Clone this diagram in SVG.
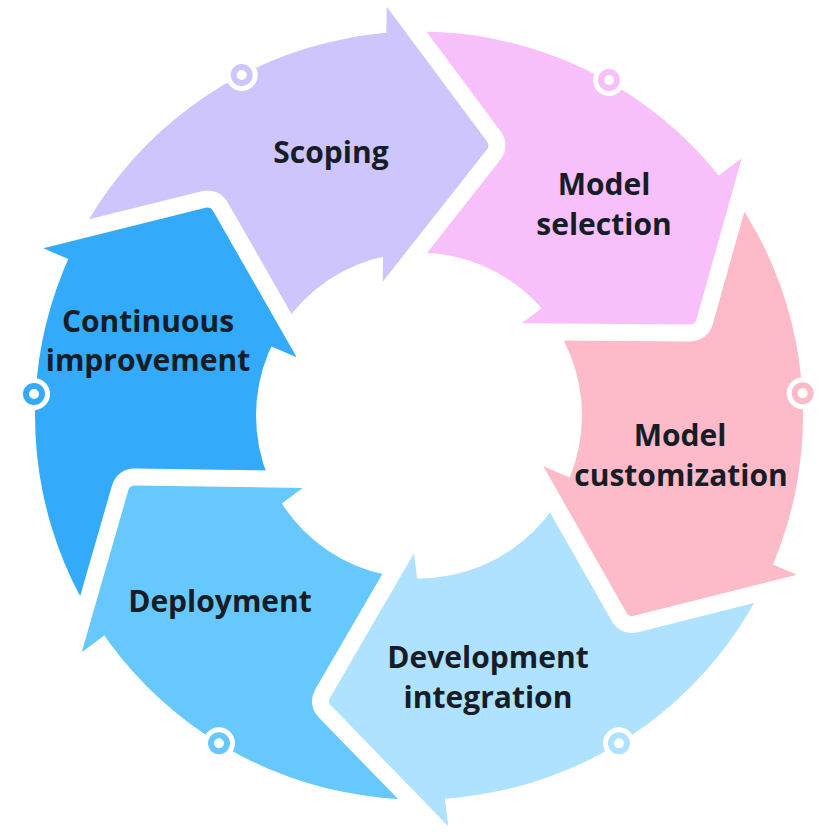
<svg xmlns="http://www.w3.org/2000/svg" xmlns:xlink="http://www.w3.org/1999/xlink" width="839" height="833" viewBox="0 0 839 833">
<style>
.lbl{font-family:"Open Sans","Noto Sans","DejaVu Sans",sans-serif;font-weight:700;font-size:30px;fill:#161D26;text-anchor:middle}
.cut{fill:#000;stroke:#000;stroke-width:34;stroke-linejoin:round}
.halo{fill:#fff}
.dot{fill:#fff;stroke-width:6}
</style>
<defs>
<clipPath id="ring"><path clip-rule="evenodd" d="M35 415.5A384 384 0 1 0 803 415.5A384 384 0 1 0 35 415.5ZM256 415.5A163 163 0 1 0 582 415.5A163 163 0 1 0 256 415.5Z"/></clipPath>
<path id="t1" d="M386.7 6.7L487 141.5Q490 145.5 486.9 149.4L382.7 281.7Z"/>
<path id="t2" d="M741.7 158.3L696.35 319.69Q695 324.5 690 324.47L521.7 323.3Z"/>
<path id="t3" d="M796.7 574.7L633.85 615.78Q629 617 626.53 612.65L543.3 466.3Z"/>
<path id="t4" d="M448.3 826.3L330.99 705.59Q327.5 702 330.01 697.68L414 553.3Z"/>
<path id="t5" d="M81.7 652.3L128.32 490.3Q129.7 485.5 134.7 485.57L302.7 488Z"/>
<path id="t6" d="M43.3 248.3L205.65 207.71Q210.5 206.5 212.98 210.84L296.7 357.3Z"/>
<mask id="m1" maskUnits="userSpaceOnUse" x="0" y="0" width="839" height="833"><rect width="839" height="833" fill="#fff"/><use xlink:href="#t6" class="cut"/></mask>
<mask id="m2" maskUnits="userSpaceOnUse" x="0" y="0" width="839" height="833"><rect width="839" height="833" fill="#fff"/><use xlink:href="#t1" class="cut"/></mask>
<mask id="m3" maskUnits="userSpaceOnUse" x="0" y="0" width="839" height="833"><rect width="839" height="833" fill="#fff"/><use xlink:href="#t2" class="cut"/></mask>
<mask id="m4" maskUnits="userSpaceOnUse" x="0" y="0" width="839" height="833"><rect width="839" height="833" fill="#fff"/><use xlink:href="#t3" class="cut"/></mask>
<mask id="m5" maskUnits="userSpaceOnUse" x="0" y="0" width="839" height="833"><rect width="839" height="833" fill="#fff"/><use xlink:href="#t4" class="cut"/></mask>
<mask id="m6" maskUnits="userSpaceOnUse" x="0" y="0" width="839" height="833"><rect width="839" height="833" fill="#fff"/><use xlink:href="#t5" class="cut"/></mask>
</defs>
<rect width="839" height="833" fill="#fff"/>

<g id="scoping">
<path fill="#CDC5FB" clip-path="url(#ring)" mask="url(#m1)" d="M333.5 373.1L-48.6 208.8L-115 -309L389.7 -93.3L383.6 321.7Z"/>
<use xlink:href="#t1" fill="#CDC5FB"/>
<circle class="halo" cx="241.7" cy="75" r="16"/>
<circle class="dot" cx="241.7" cy="75" r="8" stroke="#CDC5FB"/>
<text class="lbl" x="331" y="163">Scoping</text>
</g>

<g id="model-selection">
<path fill="#F7C0FA" clip-path="url(#ring)" mask="url(#m2)" d="M382.1 321.7L388.2 -93.3L751.7 -420.7L822.6 99.5L490.6 348.5Z"/>
<use xlink:href="#t2" fill="#F7C0FA"/>
<circle class="halo" cx="609" cy="80" r="16"/>
<circle class="dot" cx="609" cy="80" r="8" stroke="#F7C0FA"/>
<text class="lbl" x="604" y="195">Model</text>
<text class="lbl" x="604" y="235">selection</text>
</g>

<g id="model-customization">
<path fill="#FDBAC8" clip-path="url(#ring)" mask="url(#m3)" d="M489.7 347.3L821.7 98.3L1309.5 284.8L888 615.4L505.9 452Z"/>
<use xlink:href="#t3" fill="#FDBAC8"/>
<circle class="halo" cx="802.7" cy="393.3" r="16"/>
<circle class="dot" cx="802.7" cy="393.3" r="8" stroke="#FDBAC8"/>
<text class="lbl" x="680" y="446">Model</text>
<text class="lbl" x="681" y="486">customization</text>
</g>

<g id="development-integration">
<path fill="#AEE2FE" clip-path="url(#ring)" mask="url(#m4)" d="M506.5 450.6L888.6 614L933.9 1153.7L459.3 925.7L407.5 513.8Z"/>
<use xlink:href="#t4" fill="#AEE2FE"/>
<circle class="halo" cx="619" cy="743.3" r="16"/>
<circle class="dot" cx="619" cy="743.3" r="8" stroke="#AEE2FE"/>
<text class="lbl" x="488" y="668">Development</text>
<text class="lbl" x="488" y="708">integration</text>
</g>

<g id="deployment">
<path fill="#66C8FC" clip-path="url(#ring)" mask="url(#m5)" d="M409 513.6L460.8 925.5L16 1220.3L0.5 710.8L333.9 462.9Z"/>
<use xlink:href="#t5" fill="#66C8FC"/>
<circle class="halo" cx="219" cy="743.3" r="16"/>
<circle class="dot" cx="219" cy="743.3" r="8" stroke="#66C8FC"/>
<text class="lbl" x="220" y="612">Deployment</text>
</g>

<g id="continuous-improvement">
<path fill="#33AAFA" clip-path="url(#ring)" mask="url(#m6)" d="M334.8 464.1L1.4 712L-477.7 493.2L-48 207.4L334.1 371.7Z"/>
<use xlink:href="#t6" fill="#33AAFA"/>
<circle class="halo" cx="34" cy="394" r="16"/>
<circle class="dot" cx="34" cy="394" r="8" stroke="#33AAFA"/>
<text class="lbl" x="148" y="332">Continuous</text>
<text class="lbl" x="148" y="371">improvement</text>
</g>

<g id="connectors"></g>
</svg>
